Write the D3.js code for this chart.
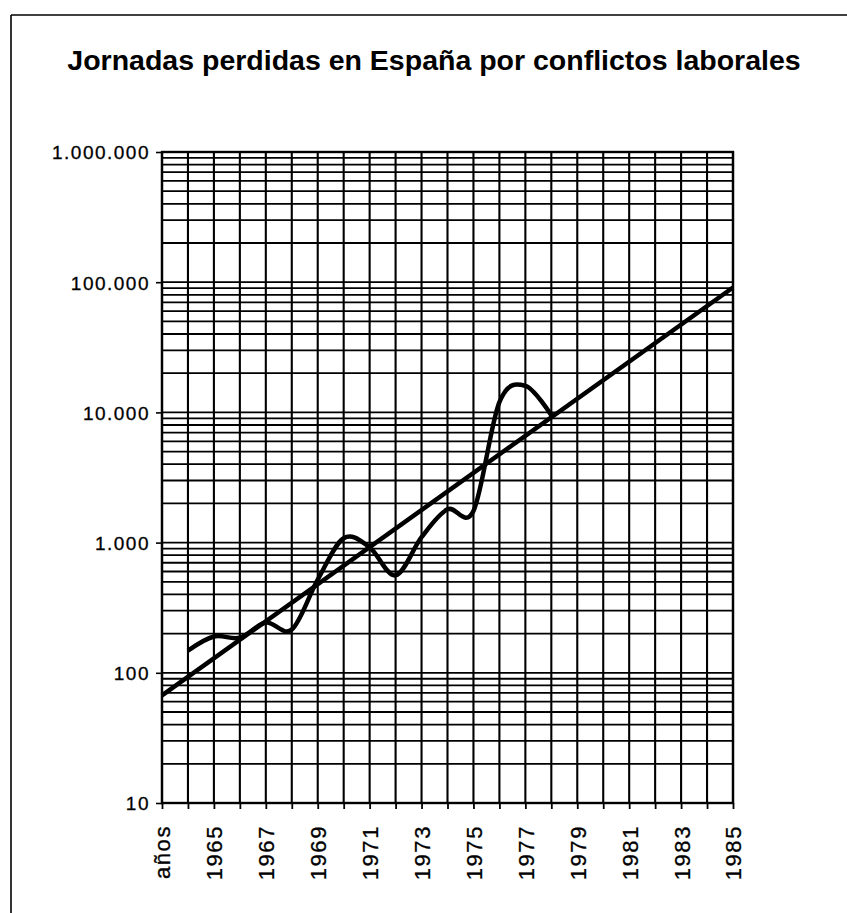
<!DOCTYPE html>
<html>
<head>
<meta charset="utf-8">
<script src="https://cdn.jsdelivr.net/npm/d3@7"></script>
<style>
  html, body { margin: 0; padding: 0; background: #fff; }
  svg { display: block; }
  text { font-family: "Liberation Sans", Arial, Helvetica, sans-serif; fill: #000; }
</style>
</head>
<body>
<svg id="chart" width="847" height="913"></svg>
<script>
// ---- data ----
const title = "Jornadas perdidas en España por conflictos laborales";
const categories = ["años","1964","1965","1966","1967","1968","1969","1970","1971","1972","1973","1974",
  "1975","1976","1977","1978","1979","1980","1981","1982","1983","1984","1985"];
const dataYears = ["1964","1965","1966","1967","1968","1969","1970","1971","1972","1973","1974","1975","1976","1977","1978"];
const jornadas  = [148, 190, 186, 243, 215, 520, 1080, 920, 560, 1100, 1800, 1750, 12000, 16000, 9500];
const trendCats = ["años", "1985"];
const trendVals = [67, 91000];
const yTickValues = [10, 100, 1000, 10000, 100000, 1000000];
const yTickLabels = ["10", "100", "1.000", "10.000", "100.000", "1.000.000"];
const xTickLabels = ["años","1965","1967","1969","1971","1973","1975","1977","1979","1981","1983","1985"];

// ---- layout ----
const svg = d3.select("#chart");
const L = 162, R = 733, T = 152, B = 803;

const x = d3.scalePoint().domain(categories).range([L, R]);
const y = d3.scaleLog().domain([10, 1000000]).range([B, T]);

// outer frame (top and left only)
svg.append("line").attr("x1", 11).attr("x2", 847).attr("y1", 15).attr("y2", 15)
  .attr("stroke", "#000").attr("stroke-width", 1.6);
svg.append("line").attr("x1", 11).attr("x2", 11).attr("y1", 15).attr("y2", 913)
  .attr("stroke", "#000").attr("stroke-width", 1.6);

// title
svg.append("text").attr("x", 434).attr("y", 70).attr("text-anchor", "middle")
  .style("font-size", "28.5px").style("font-weight", "bold").text(title);

const g = svg.append("g");

// horizontal grid (log minor lines)
g.selectAll("line.hg").data(y.ticks()).join("line").attr("class", "hg")
  .attr("x1", L).attr("x2", R).attr("y1", d => y(d)).attr("y2", d => y(d))
  .attr("stroke", "#000").attr("stroke-width", 1.8);

// vertical grid
g.selectAll("line.vg").data(categories).join("line").attr("class", "vg")
  .attr("x1", d => x(d)).attr("x2", d => x(d)).attr("y1", T).attr("y2", B)
  .attr("stroke", "#000").attr("stroke-width", 2.1);

// frame of plot
g.append("rect").attr("x", L).attr("y", T).attr("width", R - L).attr("height", B - T)
  .attr("fill", "none").attr("stroke", "#000").attr("stroke-width", 2.4);

// y axis
const yAxis = d3.axisLeft(y).tickValues(yTickValues)
  .tickFormat((d, i) => yTickLabels[i]).tickSize(6).tickPadding(6);
const ya = svg.append("g").attr("transform", `translate(${L},0)`).call(yAxis);
ya.select(".domain").remove();
ya.selectAll(".tick line").attr("stroke", "#000").attr("stroke-width", 1.6);
ya.selectAll(".tick text").style("font-size", "19px").style("letter-spacing", "1.5px")
  .style("stroke", "#000").style("stroke-width", "0.3px")
  .attr("dy", "0.36em");

// x axis
const xAxis = d3.axisBottom(x).tickSize(6).tickFormat(d => xTickLabels.includes(d) ? d : "");
const xa = svg.append("g").attr("transform", `translate(0,${B})`).call(xAxis);
xa.select(".domain").remove();
xa.selectAll(".tick line").attr("stroke", "#000").attr("stroke-width", 1.8);
xa.selectAll(".tick text")
  .style("font-size", "22px").style("letter-spacing", "1.6px")
  .style("stroke", "#000").style("stroke-width", "0.3px")
  .attr("text-anchor", "end")
  .attr("transform", "rotate(-90)")
  .attr("x", -22).attr("y", 0).attr("dy", "0.36em");

// trend line
const lineGen = d3.line().x(d => x(d.c)).y(d => y(d.v));
svg.append("path")
  .datum(trendCats.map((c, i) => ({ c, v: trendVals[i] })))
  .attr("d", lineGen).attr("fill", "none").attr("stroke", "#000")
  .attr("stroke-width", 4.5).attr("stroke-linecap", "butt");

// data line (smoothed)
const smooth = d3.line().x(d => x(d.c)).y(d => y(d.v)).curve(d3.curveCatmullRom.alpha(0));
svg.append("path")
  .datum(dataYears.map((c, i) => ({ c, v: jornadas[i] })))
  .attr("d", smooth).attr("fill", "none").attr("stroke", "#000")
  .attr("stroke-width", 4.5).attr("stroke-linejoin", "round");
</script>
</body>
</html>
